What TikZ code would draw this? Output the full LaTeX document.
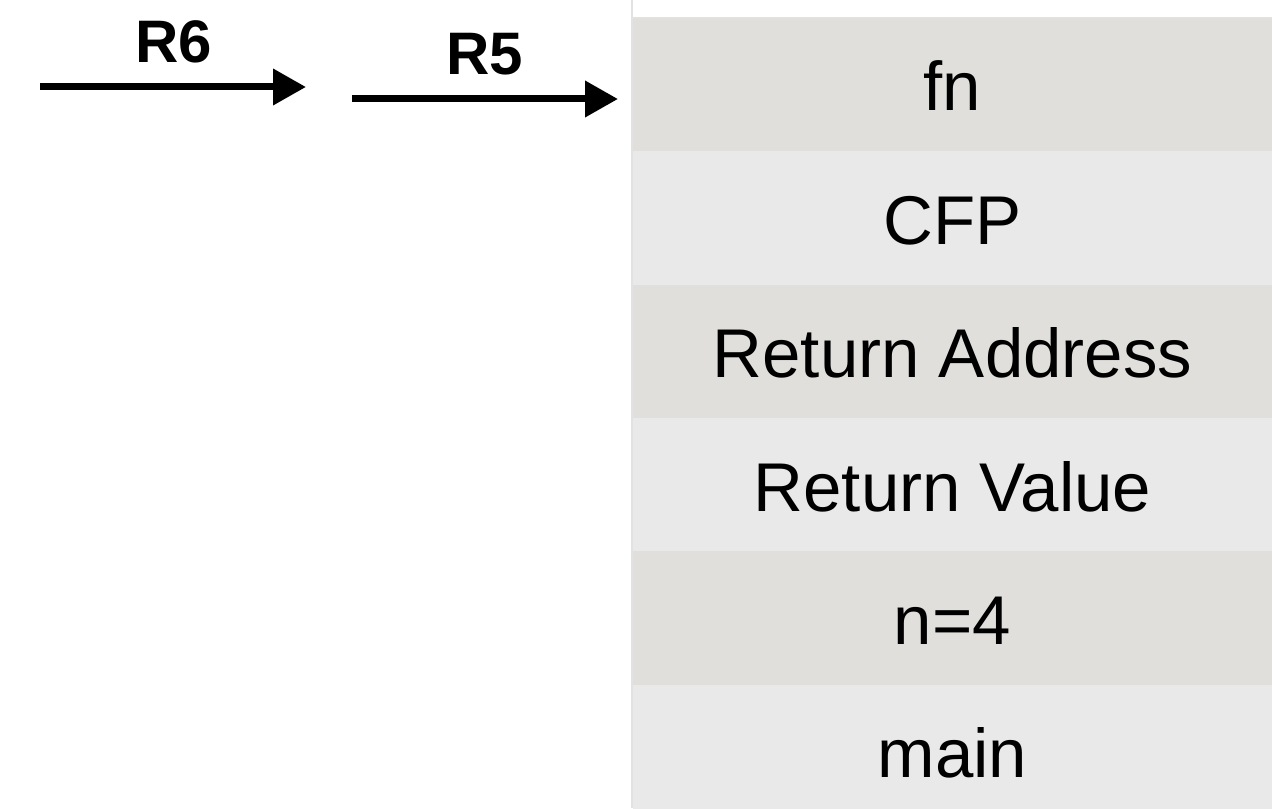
\documentclass[tikz,border=0pt]{standalone}
\usepackage{fontspec}
\setmainfont{Liberation Sans}
\usetikzlibrary{arrows.meta}
\definecolor{rowdark}{HTML}{E0DFDB}
\definecolor{rowlight}{HTML}{E9E9E9}
\definecolor{edgegray}{HTML}{E2E2E2}
\tikzset{
  stackrow/.style={draw=none, inner sep=0pt, outer sep=0pt,
    minimum width=319.5pt, text height=46.5pt, text depth=20.17pt,
    font=\fontsize{34.5pt}{40pt}\selectfont},
  regptr/.style={line width=3.5pt, -{Triangle[length=16.5pt,width=17.5pt]}},
  reglabel/.style={inner sep=0pt, anchor=base, font=\bfseries\fontsize{30pt}{36pt}\selectfont}
}
\begin{document}
\begin{tikzpicture}[x=0.5pt, y=-0.5pt]
\useasboundingbox (0,0) rectangle (1272,808);
\clip (0,0) rectangle (1272,808);
\fill[white] (0,0) rectangle (1272,808);

% stack frame, top entry first
\node[stackrow, fill=rowdark]  (fn)   at (952.5, 84.67)  {fn};
\node[stackrow, fill=rowlight] (cfp)  at (952.5, 218.0)  {CFP};
\node[stackrow, fill=rowdark]  (ra)   at (952.5, 351.33) {Return Address};
\node[stackrow, fill=rowlight] (rv)   at (952.5, 484.67) {Return Value};
\node[stackrow, fill=rowdark]  (narg) at (952.5, 618.0)  {n=4};
\node[stackrow, fill=rowlight] (mn)   at (952.5, 751.33) {main};

% frame edges
\draw[edgegray, line width=1pt] (632,0) -- (632,808);
\draw[edgegray, line width=0.5pt] (633,17.5) -- (1272,17.5);

% register pointers
\coordinate (r6s) at (40,87);
\coordinate (r6e) at (306,87);
\coordinate (r5s) at (352,99);
\coordinate (r5e) at (618,99);
\draw[regptr] (r6s) -- (r6e);
\draw[regptr] (r5s) -- (r5e);
\node[reglabel] (r6) at (174,63) {R6};
\node[reglabel] (r5) at (485,75) {R5};
\end{tikzpicture}
\end{document}
